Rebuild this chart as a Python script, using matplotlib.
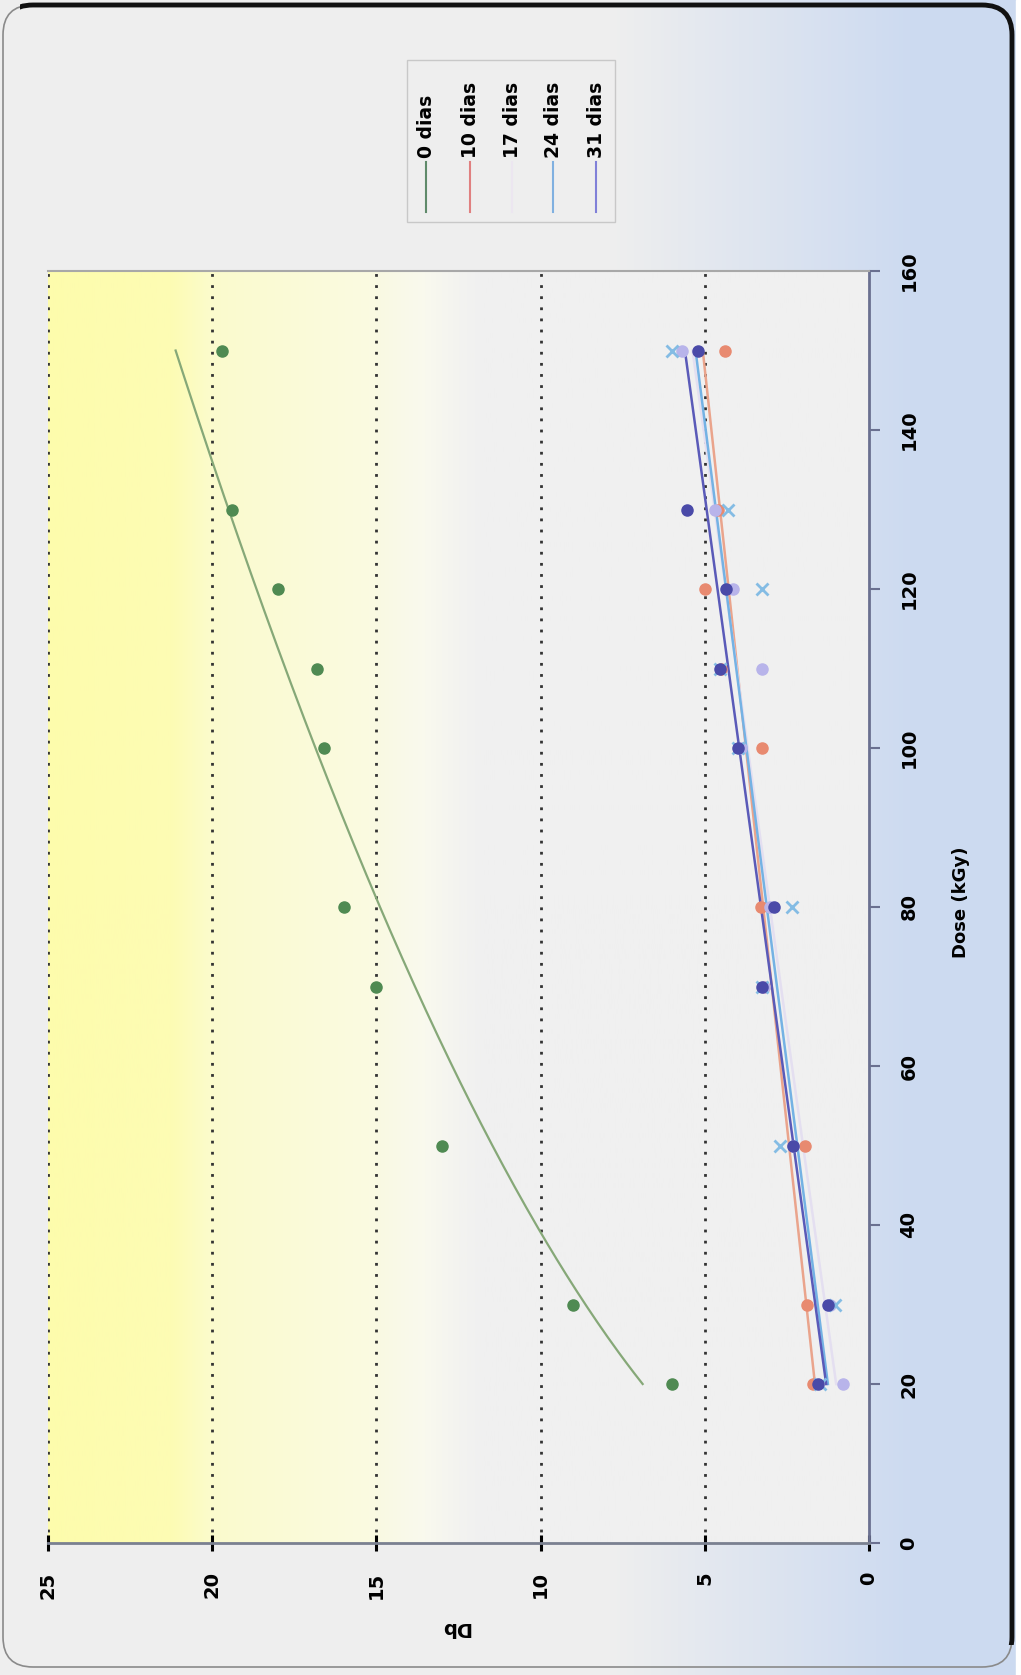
import numpy as np
import matplotlib
matplotlib.use("Agg")
import matplotlib.pyplot as plt
from matplotlib.patches import FancyBboxPatch, Rectangle
from matplotlib.lines import Line2D

# Dose (kGy) and Db values per storage day
dose = [20, 30, 50, 70, 80, 100, 110, 120, 130, 150]
db_0 = [6.0, 9.0, 13.0, 15.0, 16.0, 16.6, 16.8, 18.0, 19.4, 19.7]
db_10 = [1.7, 1.9, 1.95, 3.2, 3.3, 3.25, 4.5, 5.0, 4.6, 4.4]
db_17 = [0.8, 1.2, 2.3, 3.2, 3.0, 3.9, 3.25, 4.15, 4.7, 5.7]
db_24 = [1.5, 1.04, 2.71, 3.27, 2.35, 4.0, 4.54, 3.27, 4.3, 6.0]
db_31 = [1.55, 1.25, 2.3, 3.27, 2.9, 4.0, 4.54, 4.34, 5.53, 5.2]

labels = ["0 dias", "10 dias", "17 dias", "24 dias", "31 dias"]
db_ticks = [0, 5, 10, 15, 20, 25]
dose_ticks = [0, 20, 40, 60, 80, 100, 120, 140, 160]

W, H = 1021, 1675
plt.rcParams['font.family'] = 'DejaVu Sans'
plt.rcParams['font.weight'] = 'bold'

fig = plt.figure(figsize=(W / 100, H / 100), dpi=100)

def fx(px):
    return px / W

def fy(py):
    return 1 - py / H

# page background: grey fading to light blue on the right
bg = fig.add_axes([0, 0, 1, 1], zorder=-10)
xs = np.linspace(0, 1, 300)
t = np.clip((xs - 0.60) / 0.30, 0, 1)
grey = np.array([0.935, 0.935, 0.935])
blue = np.array([0.80, 0.855, 0.945])
row = (1 - t)[:, None] * grey + t[:, None] * blue
bg.imshow(row[None, :, :], extent=[0, 1, 0, 1], aspect='auto')
bg.add_patch(Rectangle((0.995, 0), 0.005, 1, color='white'))
bg.set_xlim(0, 1)
bg.set_ylim(0, 1)
bg.axis('off')

# frame of the scanned page
frame = FancyBboxPatch((0.03, 0.08), 10.09, 16.62,
                       boxstyle='round,pad=0,rounding_size=0.3',
                       transform=fig.dpi_scale_trans, fill=False,
                       ec='#8a8a8a', lw=1.2)
fig.patches.append(frame)
frame2 = FancyBboxPatch((0.03, 0.08), 10.09, 16.62,
                        boxstyle='round,pad=0,rounding_size=0.3',
                        transform=fig.dpi_scale_trans, fill=False,
                        ec='#111111', lw=3.5)
clip = Rectangle((0.2, 0.3), 10.3, 16.6, transform=fig.dpi_scale_trans)
frame2.set_clip_path(clip)
fig.patches.append(frame2)

# main axes (chart is rotated: Db horizontal, Dose vertical)
ax = fig.add_axes([fx(48), fy(1543), fx(869 - 48), (1543 - 271) / H])
ax.set_facecolor('#f0f0f0')

stops = [0.0, 0.15, 0.20, 0.40, 0.46, 0.50, 0.53, 1.0]
cols = np.array([[253, 252, 172], [253, 252, 180], [251, 251, 205],
                 [250, 250, 226], [249, 249, 238], [243, 243, 240],
                 [240, 240, 240], [240, 240, 240]]) / 255
fr = np.linspace(0, 1, 400)
grad = np.stack([np.interp(fr, stops, cols[:, k]) for k in range(3)], axis=1)
ax.imshow(grad[None, :, :], extent=[25, 0, 0, 160], aspect='auto', zorder=0)

for v in db_ticks[1:]:
    ax.axvline(v, color='#333333', lw=2, ls=(0, (1, 3)), zorder=1)

dd = np.linspace(20, 150, 200)

# 0 dias: power trendline
p0 = np.polyfit(np.log(dose), np.log(db_0), 1)
ax.plot(np.exp(p0[1]) * dd ** p0[0], dd, color='#86a878', lw=1.6, zorder=2)
ax.plot(db_0, dose, 'o', color='#4f8a52', ms=8, zorder=3)

series = [
    (db_10, 'o', '#e88a70', '#eaa48c'),
    (db_17, 'o', '#b8b4ea', '#e4dff0'),
    (db_24, 'x', '#84bce4', '#74b2e4'),
    (db_31, 'o', '#4a4aa8', '#5a5ab8'),
]
for vals, mk, mc, lc in series:
    p = np.polyfit(dose, vals, 1)
    ax.plot(np.polyval(p, dd), dd, color=lc, lw=1.8, zorder=2)
    if mk == 'x':
        ax.plot(vals, dose, mk, color=mc, ms=9, mew=2, zorder=3)
    else:
        ax.plot(vals, dose, mk, color=mc, ms=8, zorder=3)

ax.set_xlim(25, 0)
ax.set_ylim(0, 160)
ax.set_xticks(db_ticks)
ax.set_xticklabels([str(v) for v in db_ticks])
ax.set_yticks(dose_ticks)
ax.set_yticklabels([str(v) for v in dose_ticks])
ax.yaxis.tick_right()
ax.tick_params(axis='x', direction='inout', length=11, width=2.2,
               color='black', pad=15, labelsize=14, labelrotation=90)
ax.tick_params(axis='y', direction='out', length=8, width=1.5,
               color='#6a7090', pad=14, labelsize=14, labelrotation=90)
for lbl in ax.get_yticklabels():
    lbl.set_va('center')
    lbl.set_fontweight('bold')
for lbl in ax.get_xticklabels():
    lbl.set_fontweight('bold')

ax.spines['left'].set_visible(False)
ax.spines['top'].set_color('#a8a8a8')
ax.spines['top'].set_linewidth(1.5)
ax.spines['right'].set_color('#6a7090')
ax.spines['right'].set_linewidth(2)
ax.spines['bottom'].set_color('#7a8090')
ax.spines['bottom'].set_linewidth(2)

fig.text(fx(961), fy(902), "Dose (kGy)", rotation=90, ha='center',
         va='center', fontsize=13, fontweight='bold')
fig.text(fx(455), fy(1627), "Db", rotation=180, ha='center', va='center',
         fontsize=14, fontweight='bold')

# legend (rotated with the chart)
fig.patches.append(Rectangle((fx(407), fy(222)), fx(615 - 407), (222 - 60) / H,
                             transform=fig.transFigure, fill=False,
                             ec='#c8c8c8', lw=1))
leg_x = [426, 470, 512, 553, 596]
leg_c = ['#5f8a6a', '#e08080', '#ece6f0', '#80b0e0', '#8080d8']
for x, lab, c in zip(leg_x, labels, leg_c):
    fig.lines.append(Line2D([fx(x), fx(x)], [fy(212), fy(162)],
                            transform=fig.transFigure, color=c, lw=1.5))
    fig.text(fx(x), fy(158), lab, rotation=90, ha='center', va='bottom',
             fontsize=13.5, fontweight='bold')

fig.savefig('out.png', dpi=100)
